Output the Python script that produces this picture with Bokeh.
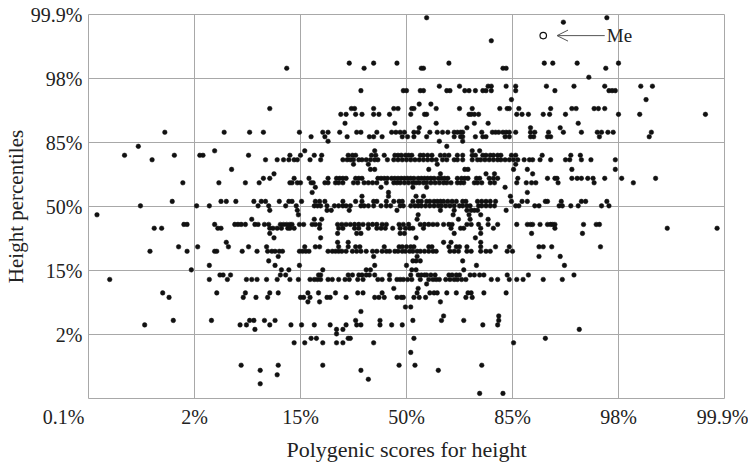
from bokeh.plotting import figure
from bokeh.models import FixedTicker, Label, Arrow, OpenHead, Range1d, Title
from bokeh.embed import file_html
from bokeh.resources import INLINE

# Axis ticks (z-scores) and their percentile labels
tick_z = [-3, -2, -1, 0, 1, 2, 3]
tick_labels = ["0.1%", "2%", "15%", "50%", "85%", "98%", "99.9%"]

# Height percentile levels (z-scores), one list of polygenic score z-values per level
height_levels = [2.95, 2.88, 2.59, 2.24, 2.16, 2.02, 1.88, 1.81, 1.67, 1.60, 1.53, 1.44,
                 1.30, 1.23, 1.16, 1.09, 1.02, 0.94, 0.87, 0.80, 0.73, 0.66, 0.58, 0.51,
                 0.44, 0.37, 0.30, 0.22, 0.16, 0.08, 0.01, -0.06, -0.13, -0.20, -0.28,
                 -0.34, -0.42, -0.49, -0.56, -0.63, -0.70, -0.78, -0.85, -0.92, -0.99,
                 -1.07, -1.14, -1.21, -1.28, -1.35, -1.42, -1.49, -1.57, -1.64, -1.71,
                 -1.78, -1.85, -1.92, -1.99, -2.06, -2.13, -2.28, -2.48, -2.56, -2.63,
                 -2.70, -2.77, -2.92]

scores_by_level = [
    [0.19, 1.89],
    [1.48],
    [0.80],
    [-0.54, -0.31, -0.09, 0.40, 1.30, 1.38, 1.61, 2.00],
    [-1.13, -0.40, 0.14, 0.16, 0.91, 0.94, 1.88],
    [1.72],
    [0.31, 0.50, 0.77, 0.80, 0.94, 1.03, 1.32, 1.58, 1.87, 2.21, 2.32],
    [-0.43, -0.03, 0.00, 0.13, 0.16, 0.38, 0.41, 0.55, 0.59, 0.65, 0.72, 0.75, 0.80,
     1.03, 1.40, 1.91, 1.94, 1.97],
    [0.99, 2.26],
    [0.12, 0.23],
    [-1.29, -0.52, -0.49, -0.31, -0.12, -0.08, 0.05, 0.07, 0.28, 0.50, 0.62, 0.88,
     0.95, 0.97, 1.06, 1.36, 1.56, 1.60, 1.77, 1.81, 1.87],
    [-0.62, -0.57, -0.48, -0.42, -0.31, -0.26, -0.16, 0.04, 0.17, 0.19, 0.59, 0.61,
     0.64, 0.68, 1.04, 1.09, 1.15, 1.29, 1.35, 1.50, 2.00, 2.20, 2.82],
    [-0.58, -0.11, 0.28, 0.64, 0.77, 1.62],
    [0.12, 0.57, 1.17, 1.45],
    [-2.28, -1.72, -1.48, -1.35, -1.01, -0.79, -0.74, -0.63, -0.47, -0.43, -0.28,
     -0.14, -0.10, -0.06, -0.02, 0.07, 0.11, 0.22, 0.29, 0.34, 0.39, 0.45, 0.48,
     0.51, 0.53, 0.71, 0.81, 0.84, 0.87, 0.91, 0.94, 0.97, 1.03, 1.17, 1.21, 1.34,
     1.48, 1.65, 1.80, 1.84, 1.90, 1.95, 2.31],
    [-0.90, -0.77, -0.56, -0.35, -0.31, -0.23, -0.04, 0.01, 0.07, 0.19, 0.45, 0.51,
     0.53, 0.65, 0.72, 0.75, 0.93, 0.97, 1.17, 1.20, 1.33, 1.36, 1.82, 2.29],
    [-0.74, 0.31, 0.53],
    [-2.53, 0.38],
    [-1.81, -0.96, -0.30, 0.62, 0.69],
    [-2.66, -2.19, -1.95, -1.92, -1.49, -1.10, -1.00, -0.87, -0.80, -0.55, -0.51,
     -0.48, -0.33, -0.29, -0.21, -0.11, -0.08, -0.05, -0.01, 0.02, 0.05, 0.13, 0.16,
     0.20, 0.24, 0.32, 0.36, 0.40, 0.48, 0.53, 0.62, 0.65, 0.72, 0.75, 0.79, 0.82,
     0.86, 0.89, 0.99, 1.03, 1.28, 1.55, 1.64],
    [-2.40, -1.33, -1.22, -1.16, -1.11, -1.06, -1.03, -0.91, -0.81, -0.60, -0.56,
     -0.53, -0.50, -0.45, -0.42, -0.38, -0.34, -0.30, -0.27, -0.18, -0.12, -0.08,
     -0.04, 0.00, 0.04, 0.08, 0.12, 0.16, 0.20, 0.24, 0.28, 0.34, 0.38, 0.45, 0.48,
     0.53, 0.62, 0.67, 0.70, 0.74, 0.78, 0.82, 0.86, 0.89, 0.93, 0.97, 1.01, 1.05,
     1.11, 1.16, 1.19, 1.26, 1.36, 1.50, 1.54, 1.65, 1.74, 1.97],
    [-0.50, -0.36, 0.29, 1.03],
    [-1.65, -0.34, -0.30, 0.21, 0.55, 0.58, 1.01, 1.14, 1.56, 1.97],
    [-1.25, 0.32, 0.75, 0.83, 1.19],
    [-1.35, -1.29, -1.06, -0.92, -0.74, -0.66, -0.63, -0.60, -0.57, -0.48, -0.45,
     -0.42, -0.27, -0.24, -0.21, -0.18, -0.14, -0.11, -0.08, -0.05, -0.02, 0.01,
     0.04, 0.07, 0.11, 0.14, 0.17, 0.20, 0.23, 0.26, 0.30, 0.33, 0.36, 0.39, 0.48,
     0.52, 0.55, 0.58, 0.66, 0.69, 0.78, 0.82, 0.86, 1.05, 1.33, 1.40, 1.42, 1.56,
     1.61, 1.65, 1.71, 1.76, 1.87, 2.03, 2.35],
    [-2.11, -1.77, -1.52, -1.39, -1.10, -1.08, -1.03, -1.00, -0.90, -0.88, -0.77,
     -0.74, -0.67, -0.64, -0.60, -0.50, -0.46, -0.40, -0.36, -0.32, -0.28, -0.19,
     -0.12, -0.09, -0.06, -0.02, 0.02, 0.06, 0.09, 0.12, 0.16, 0.19, 0.23, 0.27,
     0.31, 0.35, 0.38, 0.42, 0.48, 0.51, 0.54, 0.64, 0.67, 0.71, 0.79, 0.83, 1.04,
     1.13, 1.18, 1.22, 1.43, 1.77, 2.14],
    [-0.86, -0.24, 0.06, 0.19, 0.93],
    [-0.89, -0.17, 1.14],
    [-0.42, -0.17, 0.09, 0.16, 0.98],
    [-2.21, -1.75, -1.70, -1.61, -1.44, -1.37, -1.33, -1.20, -1.11, -1.08, -0.99,
     -0.86, -0.82, -0.77, -0.60, -0.48, -0.42, -0.31, -0.28, -0.19, -0.12, -0.07,
     -0.04, 0.06, 0.11, 0.14, 0.19, 0.22, 0.26, 0.29, 0.32, 0.35, 0.39, 0.43, 0.47,
     0.53, 0.56, 0.67, 0.71, 0.75, 0.79, 0.84, 0.99, 1.09, 1.14, 1.31, 1.33, 1.46,
     1.65, 1.69, 1.89],
    [-2.51, -1.98, -1.86, -1.40, -1.30, -1.14, -1.04, -0.87, -0.84, -0.81, -0.75,
     -0.68, -0.64, -0.60, -0.57, -0.53, -0.43, -0.40, -0.36, -0.31, -0.24, -0.19,
     -0.15, -0.06, -0.03, 0.04, 0.08, 0.11, 0.14, 0.18, 0.22, 0.26, 0.30, 0.33,
     0.37, 0.41, 0.45, 0.50, 0.53, 0.57, 0.60, 0.68, 0.71, 0.75, 0.79, 0.83, 1.03,
     1.06, 1.21, 1.25, 1.44, 1.47, 1.55, 1.62, 1.84, 1.91],
    [-1.29, -1.03, -0.75, -0.71, -0.54, -0.09, 0.32, 0.45, 0.57, 0.61, 0.64, 0.67, 0.94],
    [-2.92, -1.02, 0.11, 0.44, 0.59, 0.70],
    [-1.46, -0.87, -0.80, 0.10, 0.49, 0.60, 0.77],
    [-2.10, -2.07, -1.81, -1.62, -1.59, -1.56, -1.52, -1.43, -1.40, -1.34, -1.30,
     -1.19, -1.16, -1.13, -1.10, -1.08, -1.01, -0.97, -0.89, -0.86, -0.82, -0.65,
     -0.61, -0.57, -0.53, -0.49, -0.45, -0.41, -0.36, -0.32, -0.28, -0.23, -0.19,
     -0.07, -0.03, 0.02, 0.13, 0.17, 0.21, 0.25, 0.29, 0.35, 0.40, 0.43, 0.57, 0.61,
     0.68, 0.77, 0.86, 1.04, 1.14, 1.17, 1.19, 1.26, 1.33, 1.36, 1.38, 1.40, 1.67,
     1.79, 1.82],
    [-2.38, -2.31, -1.78, -1.75, -1.29, -1.26, -1.22, -1.18, -1.12, -1.10, -1.06,
     -0.82, -0.64, -0.60, -0.49, -0.45, -0.36, -0.28, -0.24, -0.20, -0.13, -0.06,
     -0.01, 0.03, 0.06, 0.16, 0.42, 0.51, 0.54, 0.70, 0.82, 1.40, 2.46, 2.93],
    [-1.29, -0.65, -0.47, -0.43, -0.06, -0.02, 0.45, 0.70, 1.18, 1.66],
    [-1.25, -0.81, 0.09, 0.65],
    [-1.70, -0.65, -0.55, 0.35, 0.42, 0.70],
    [-2.15, -1.97, -1.68, -1.49, -1.32, -0.96, -0.86, -0.82, -0.64, -0.55, -0.48,
     -0.44, -0.21, -0.07, -0.04, 0.00, 0.04, 0.07, 0.21, 0.24, 0.40, 0.47, 0.50,
     0.57, 0.70, 0.84, 0.97, 1.25, 1.29, 1.37, 1.83],
    [-2.42, -2.07, -1.81, -1.79, -1.55, -1.41, -1.31, -1.27, -1.24, -1.20, -1.17,
     -1.01, -0.98, -0.95, -0.92, -0.74, -0.70, -0.67, -0.64, -0.61, -0.57, -0.51,
     -0.47, -0.43, -0.38, -0.32, -0.28, -0.23, -0.19, -0.16, -0.11, -0.08, -0.04,
     -0.01, 0.03, 0.06, 0.10, 0.13, 0.17, 0.21, 0.25, 0.28, 0.41, 0.45, 0.49, 0.57,
     0.61, 0.70, 0.75, 0.79, 0.95, 1.00],
    [-1.21, -0.31, 0.10, 1.25, 1.45],
    [-1.30, 0.06, 0.09, 0.13, 0.53],
    [-1.86, -1.24, -1.01, -0.30, 0.00, 0.66, 1.49],
    [-2.03, -1.18, -1.11, -0.79, -0.38, -0.34, 0.05, 0.09, 0.54],
    [-1.76, -1.73, -1.66, -1.19, -1.14, -0.83, -0.81, -0.55, -0.51, -0.45, -0.42,
     -0.38, -0.35, -0.30, -0.16, 0.04, 0.11, 0.14, 0.17, 0.19, 0.23, 0.27, 0.40,
     0.43, 0.47, 0.50, 0.60, 0.64, 0.69, 0.73, 0.95, 1.15, 1.58],
    [-2.80, -1.86, -1.69, -1.51, -1.46, -1.41, -1.32, -1.22, -1.10, -1.02, -0.91,
     -0.87, -0.84, -0.81, -0.74, -0.70, -0.64, -0.58, -0.54, -0.46, -0.41, -0.27,
     -0.23, -0.16, -0.09, -0.06, -0.03, 0.01, 0.05, 0.13, 0.21, 0.25, 0.28, 0.31,
     0.37, 0.41, 0.45, 0.48, 0.52, 0.56, 0.80, 0.86, 0.97, 1.04, 1.10, 1.29, 1.47],
    [0.19],
    [-0.12, 0.11],
    [-2.30, -1.79, -1.52, -1.29, -1.21, -0.93, -0.83, -0.67, -0.46, -0.41, -0.23,
     0.10, 0.22, 0.26, 0.29, 0.38, 0.47, 0.58, 0.61, 0.73, 0.94],
    [-2.24, -1.54, -1.42, -1.31, -1.00, -0.97, -0.91, -0.75, -0.72, -0.57, -0.30,
     -0.26, -0.21, -0.09, -0.05, -0.03, 0.07, 0.12, 0.18, 0.56, 0.62],
    [-0.93, -0.82, 0.32],
    [-0.01, 0.04],
    [-0.43],
    [0.35, 0.87],
    [-2.20, -1.84, -1.48, -1.44, -1.34, -1.24, -0.48, -0.25, 0.06, 0.33, 0.54, 0.87],
    [-2.47, -1.57, -1.51, -1.29, -1.09, -0.99, -0.87, -0.72, -0.57, -0.47, -0.43,
     -0.25, -0.14, -0.04, 0.72, 0.86],
    [-1.43, -0.66, -0.60, 1.63],
    [-0.66],
    [-0.90, -0.85, -0.55, -0.53, 0.07, 1.31],
    [-1.06, -0.96, -0.79, -0.66, -0.60, -0.31, 1.01],
    [0.04],
    [-1.56, -1.21, -0.79, -0.07, 0.08, 0.71],
    [-1.38, -0.43, 0.30],
    [-1.22],
    [-0.36],
    [-1.38],
    [0.69, 0.91],
]

# "Me" marker
me_score = 1.29
me_height = 2.67

scores, heights = [], []
for h, row in zip(height_levels, scores_by_level):
    scores.extend(row)
    heights.extend([h] * len(row))

FONT = "Liberation Serif"
TEXT = "#222222"
GRID = "#a8a8a8"
NBSP = "\u00a0"

p = figure(width=748, height=473, output_backend="svg", toolbar_location=None,
           x_range=Range1d(-3, 3), y_range=Range1d(-3, 3),
           min_border_left=88, min_border_right=24, min_border_top=14,
           min_border_bottom=75)
p.background_fill_color = "white"
p.border_fill_color = "white"
p.outline_line_color = GRID
p.outline_line_width = 1

ticker = FixedTicker(ticks=tick_z)
overrides = {z: lab for z, lab in zip(tick_z, tick_labels)}
x_over = dict(overrides)
# lowest score label sits right-aligned at the corner
x_over[-3] = tick_labels[0] + NBSP * 10
y_over = dict(overrides)
y_over[-3] = ""

for ax in (p.xaxis[0], p.yaxis[0]):
    ax.ticker = ticker
    ax.axis_line_color = None
    ax.major_tick_line_color = None
    ax.minor_tick_line_color = None
    ax.major_tick_out = 0
    ax.major_tick_in = 0
    ax.major_label_text_font = FONT
    ax.major_label_text_font_size = "20px"
    ax.major_label_text_color = TEXT
    ax.axis_label_text_font = FONT
    ax.axis_label_text_font_size = "21px"
    ax.axis_label_text_font_style = "normal"
    ax.axis_label_text_color = TEXT

p.xaxis.major_label_overrides = x_over
p.yaxis.major_label_overrides = y_over
p.xaxis.major_label_standoff = 7
p.yaxis.major_label_standoff = 6
p.yaxis.axis_label = "Height percentiles"
p.yaxis.axis_label_standoff = 0

p.add_layout(Title(text="Polygenic scores for height", align="center", offset=-19,
                   text_font=FONT, text_font_size="22px", text_font_style="normal",
                   text_color=TEXT, standoff=9), "below")

p.xgrid.ticker = ticker
p.ygrid.ticker = ticker
p.grid.grid_line_color = GRID
p.grid.grid_line_width = 1

p.scatter(scores, heights, size=4.6, fill_color="#111111", line_color="#111111",
          line_width=0.5)

# Me marker with arrow
p.scatter([me_score], [me_height], size=6.5, fill_color="white", line_color="#111111",
          line_width=1.2)
p.add_layout(Arrow(end=OpenHead(size=11, line_color="#555555", line_width=1),
                   x_start=me_score + 0.58, y_start=me_height,
                   x_end=me_score + 0.13, y_end=me_height,
                   line_color="#555555", line_width=1))
p.add_layout(Label(x=me_score + 0.60, y=me_height, text="Me", text_align="left",
                   text_baseline="middle", text_font=FONT, text_font_size="19px",
                   text_color=TEXT))

open("out.html", "w").write(file_html(p, INLINE))
